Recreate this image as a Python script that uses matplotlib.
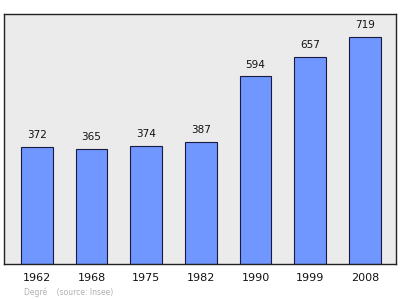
import matplotlib
matplotlib.use("Agg")
import matplotlib.pyplot as plt
import numpy as np

years = ['1962', '1968', '1975', '1982', '1990', '1999', '2008']
population = [372, 365, 374, 387, 594, 657, 719]

fig = plt.figure(figsize=(4.0, 2.99), dpi=100)
# axes box: x 4..396 px, y 14..264 px
ax = fig.add_axes([4 / 400, (299 - 264) / 299, 392 / 400, 250 / 299])
ax.set_facecolor('#ebebeb')

x = np.arange(len(years))
ax.bar(x, population, width=0.58, color='#7096ff', edgecolor='#1a1a40', linewidth=0.8, zorder=2)

for xi, v in zip(x, population):
    ax.text(xi, v + 22, str(v), ha='center', va='bottom', fontsize=7.5, color='#111111')

ax.set_xlim(-0.6, 6.57)
ax.set_ylim(0, 792)
ax.set_xticks([])
ax.set_yticks([])
for s in ax.spines.values():
    s.set_color('#222222')
    s.set_linewidth(1.0)

for xi, yr in zip(x, years):
    ax.text(xi, -0.055, yr, transform=ax.get_xaxis_transform(), ha='center', va='center',
            fontsize=8, color='#111111')

fig.text(24 / 400, 1 - 292 / 299, 'Degré    (source: Insee)', ha='left', va='center',
         fontsize=5.5, color='#b0b0b0')

fig.savefig('out.png', dpi=100)
